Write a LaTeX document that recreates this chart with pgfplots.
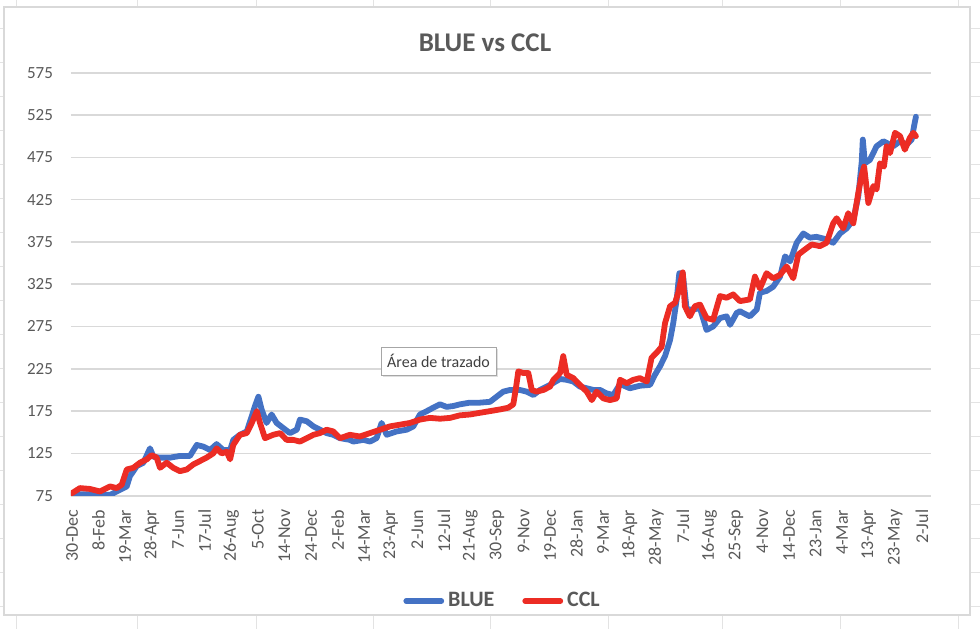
\documentclass[border=0pt]{standalone}
\usepackage{pgfplots}
\pgfplotsset{compat=1.18}
\usepackage{fontspec}
\setmainfont{Carlito}
\usetikzlibrary{shadows}
\definecolor{txt}{HTML}{595959}
\definecolor{grd}{HTML}{D9D9D9}
\definecolor{blueline}{HTML}{4472C4}
\definecolor{redline}{HTML}{EC2C24}
\definecolor{cellgrid}{HTML}{E3E3E3}

\begin{document}
\begin{tikzpicture}
\begin{axis}[
    name=ax,
    scale only axis,
    width=430pt, height=211.5pt,
    xmin=-0.038, xmax=32.49,
    ymin=75, ymax=575,
    ytick={75,125,...,575},
    xtick={0,1.0045,...,32.2},
    xticklabels={30-Dec,8-Feb,19-Mar,28-Apr,7-Jun,17-Jul,26-Aug,5-Oct,14-Nov,24-Dec,2-Feb,14-Mar,23-Apr,2-Jun,12-Jul,21-Aug,30-Sep,9-Nov,19-Dec,28-Jan,9-Mar,18-Apr,28-May,7-Jul,16-Aug,25-Sep,4-Nov,14-Dec,23-Jan,4-Mar,13-Apr,23-May,2-Jul},
    ymajorgrids,
    grid style={grd, line width=0.8pt},
    axis line style={draw=none},
    tick style={draw=none},
    tick label style={text=txt},
    yticklabel style={font=\fontsize{8.5}{10}\selectfont, xshift=-5.5pt},
    xticklabel style={font=\fontsize{9}{10}\selectfont, yshift=-3.5pt, rotate=90, anchor=east},
    /pgf/number format/assume math mode=true,
    legend columns=2,
    legend style={draw=none, fill=none, at={(0.503,-0.249)}, anchor=center,
        font=\bfseries\fontsize{11}{13}\selectfont, text=txt,
        /tikz/every even column/.append style={column sep=12pt}},
    legend image code/.code={\draw[#1, line width=2.9pt] (0pt,0pt) -- (17.5pt,0pt);},
    every axis plot/.append style={line width=2.9pt, line join=round, line cap=round},
]
% BLUE
\addplot[blueline] coordinates {
(0,77) (1.44,76) (1.82,82) (2.07,86) (2.19,98) (2.45,110) (2.70,114) (2.95,131)
(3.08,121) (3.33,120) (3.71,120) (4.08,122) (4.46,122) (4.72,135) (4.97,133)
(5.22,129) (5.47,136) (5.72,129) (5.98,129) (6.10,141) (6.35,147) (6.61,151)
(6.80,169) (6.92,181) (7.05,192) (7.17,177) (7.36,161) (7.55,171) (7.74,161)
(7.99,155) (8.24,149) (8.50,153) (8.62,165) (8.88,163) (9.13,157) (9.38,153)
(9.63,149) (9.88,147) (10.14,143) (10.51,141) (10.64,139) (11.02,141) (11.27,139)
(11.52,143) (11.71,161) (11.90,147) (12.28,151) (12.66,153) (12.91,157) (13.16,171)
(13.42,175) (13.66,179) (13.92,183) (14.17,180) (14.42,181) (14.67,183) (15.05,185)
(15.43,185) (15.81,186) (16.06,192) (16.31,198) (16.57,200) (16.94,200) (17.20,198)
(17.45,194) (17.70,200) (18.08,206) (18.46,213) (18.71,212) (18.96,210) (19.21,204)
(19.47,202) (19.72,200) (19.97,200) (20.22,196) (20.47,194) (20.73,207) (21.10,202)
(21.48,205) (21.86,206) (22.05,218) (22.24,228) (22.43,240) (22.62,259) (22.74,279)
(22.87,307) (22.97,338) (23.10,338) (23.25,295) (23.50,295) (23.75,297) (24.00,271)
(24.25,275) (24.51,285) (24.76,287) (24.89,277) (25.14,291) (25.26,293) (25.64,287)
(25.90,295) (26.02,315) (26.27,317) (26.52,322) (26.78,334) (26.97,358) (27.16,352)
(27.41,374) (27.66,385) (27.91,380) (28.16,381) (28.54,378) (28.79,374) (29.05,385)
(29.30,391) (29.55,401) (29.74,429) (29.87,470) (29.91,496) (29.99,468) (30.18,472)
(30.43,488) (30.69,494) (31.06,488) (31.32,494) (31.57,490) (31.76,496) (31.85,512)
(31.92,523)
};
% CCL
\addplot[redline] coordinates {
(0,78) (0.30,84) (0.68,83) (1.06,80) (1.44,86) (1.69,84) (1.88,88) (2.07,106)
(2.32,108) (2.57,114) (2.83,118) (3.01,123) (3.20,120) (3.33,108) (3.58,114)
(3.83,108) (4.08,104) (4.34,106) (4.59,112) (4.84,116) (5.09,120) (5.34,125)
(5.47,131) (5.66,125) (5.85,127) (5.98,118) (6.10,135) (6.35,147) (6.61,149)
(6.80,161) (6.99,175) (7.11,161) (7.30,143) (7.61,147) (7.87,149) (8.12,141)
(8.37,141) (8.62,139) (8.88,143) (9.13,147) (9.38,149) (9.63,153) (9.88,151)
(10.14,143) (10.51,147) (10.89,145) (11.27,149) (11.65,153) (12.03,157) (12.41,159)
(12.78,161) (13.16,165) (13.54,167) (13.92,166) (14.30,167) (14.67,170) (15.05,171)
(15.43,173) (15.81,175) (16.19,177) (16.50,179) (16.69,183) (16.79,202) (16.88,222)
(17.07,220) (17.26,220) (17.39,200) (17.57,198) (17.83,200) (18.08,204) (18.21,212)
(18.46,220) (18.58,240) (18.71,218) (18.96,214) (19.21,206) (19.47,198) (19.66,188)
(19.84,198) (20.10,190) (20.35,188) (20.60,190) (20.73,212) (20.98,208) (21.23,212)
(21.48,214) (21.74,210) (21.92,238) (22.11,244) (22.30,251) (22.43,279) (22.62,299)
(22.81,303) (22.93,315) (23.10,339) (23.18,299) (23.37,287) (23.56,299) (23.75,301)
(24.00,285) (24.25,283) (24.51,311) (24.76,309) (25.01,313) (25.26,305) (25.64,307)
(25.83,334) (26.02,320) (26.27,338) (26.52,332) (26.78,336) (27.03,346) (27.28,332)
(27.47,360) (27.72,366) (27.98,372) (28.29,370) (28.54,374) (28.79,397) (28.92,403)
(29.17,391) (29.36,409) (29.55,397) (29.74,433) (29.87,454) (29.96,464) (30.12,421)
(30.31,441) (30.43,437) (30.56,468) (30.71,464) (30.81,488) (30.94,480) (31.13,504)
(31.32,500) (31.50,484) (31.69,498) (31.82,504) (31.92,500)
};
\legend{BLUE, CCL}
\end{axis}
\begin{scope}[shift={(ax.south west)}]
\begin{scope}[xshift=-35.5pt, yshift=247.85pt, x=0.5pt, y=-0.5pt]
  \useasboundingbox (0,0) rectangle (980,629);
  % spreadsheet cells around the chart
  \foreach \x in {17,138,256,373,490,608,722,840,958} {
    \draw[cellgrid, line width=0.5pt] (\x,0) -- (\x,7);
    \draw[cellgrid, line width=0.5pt] (\x,615) -- (\x,629);
  }
  \foreach \y in {28,62,...,606} {
    \draw[cellgrid, line width=0.5pt] (970,\y) -- (980,\y);
    \draw[cellgrid, line width=0.5pt] (0,\y) -- (4,\y);
  }
  \draw[grd, line width=0.6pt] (4,7) rectangle (970,615);
  \node[font=\bfseries\fontsize{13.5}{16}\selectfont, text=txt] at (485,43) {BLUE vs CCL};
  \node[draw=gray!70, fill=white, drop shadow={opacity=0.25, shadow xshift=1.2pt, shadow yshift=-1.2pt},
        font=\fontsize{8}{10}\selectfont, text=black!75, minimum width=57.5pt, minimum height=14pt,
        inner sep=2pt] at (438.5,361) {Área de trazado};
\end{scope}
\end{scope}
\end{tikzpicture}
\end{document}
